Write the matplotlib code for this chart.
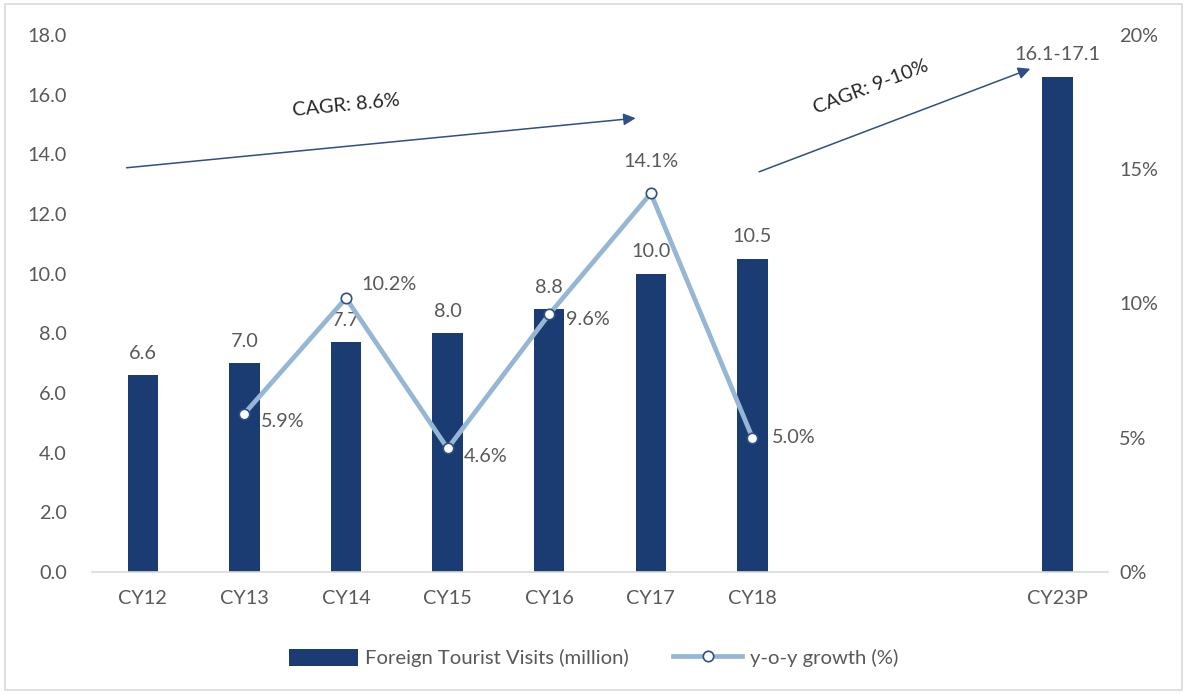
import matplotlib
matplotlib.use("Agg")
import matplotlib.pyplot as plt
from matplotlib.patches import Rectangle

plt.rcParams['font.family'] = ['Lato', 'DejaVu Sans']

categories = ['CY12', 'CY13', 'CY14', 'CY15', 'CY16', 'CY17', 'CY18', '', '', 'CY23P']
visits = [6.6, 7.0, 7.7, 8.0, 8.8, 10.0, 10.5, None, None, 16.6]
visit_labels = ['6.6', '7.0', '7.7', '8.0', '8.8', '10.0', '10.5', '', '', '16.1-17.1']
growth_cats = ['CY13', 'CY14', 'CY15', 'CY16', 'CY17', 'CY18']
growth = [5.9, 10.2, 4.6, 9.6, 14.1, 5.0]
left_ticks = [0, 2, 4, 6, 8, 10, 12, 14, 16, 18]
right_ticks = [0, 5, 10, 15, 20]

BAR = '#1B3C73'
LINE = '#95B7D3'
TXT = '#595959'
FS = 14.3

fig = plt.figure(figsize=(11.87, 6.94), dpi=100)
fig.patches.append(Rectangle((0.004, 0.006), 0.992, 0.988, transform=fig.transFigure,
                             fill=False, edgecolor='#D9D9D9', linewidth=1.2))
ax = fig.add_axes([0.0775, 0.1758, 0.856, 0.7738])
ax2 = ax.twinx()

xs = list(range(len(categories)))
bx = [x for x, v in zip(xs, visits) if v is not None]
bv = [v for v in visits if v is not None]
bl = [l for l, v in zip(visit_labels, visits) if v is not None]
bars = ax.bar(bx, bv, width=0.30, color=BAR, zorder=2)
for x, v, l in zip(bx, bv, bl):
    ax.text(x, v + 0.45, l, ha='center', va='bottom', fontsize=FS, color=TXT, zorder=5)

ax.set_xlim(-0.5, len(categories) - 0.5)
ax.set_ylim(0, 18)
ax.set_yticks(left_ticks)
ax.set_yticklabels([f'{t:.1f}' for t in left_ticks])
ax.set_xticks(xs)
ax.set_xticklabels(categories)
ax.tick_params(axis='both', length=0, labelsize=FS, labelcolor=TXT)
ax.tick_params(axis='x', pad=13)
ax.tick_params(axis='y', pad=18)
for s in ['top', 'right', 'left']:
    ax.spines[s].set_visible(False)
ax.spines['bottom'].set_color('#D9D9D9')
ax.spines['bottom'].set_linewidth(1.2)

gx = [categories.index(c) for c in growth_cats]
ax2.plot(gx, growth, color=LINE, linewidth=3.4, marker='o', markersize=7.5,
         markerfacecolor='white', markeredgecolor='#2F4F86', markeredgewidth=1.2, zorder=4)
ax2.set_ylim(0, 20)
ax2.set_yticks(right_ticks)
ax2.set_yticklabels([f'{t}%' for t in right_ticks])
ax2.tick_params(axis='y', length=0, labelsize=FS, labelcolor=TXT, pad=8)
for s in ['top', 'right', 'left', 'bottom']:
    ax2.spines[s].set_visible(False)

offsets = {'CY13': (12, -6, 'left', 'center'), 'CY14': (11, 4, 'left', 'bottom'),
           'CY15': (12, -6, 'left', 'center'), 'CY16': (12, -4, 'left', 'center'),
           'CY17': (0, 17, 'center', 'bottom'), 'CY18': (14, 0, 'left', 'center')}
for c, x, g in zip(growth_cats, gx, growth):
    dx, dy, ha, va = offsets[c]
    ax2.annotate(f'{g:.1f}%', (x, g), xytext=(dx, dy), textcoords='offset points',
                 ha=ha, va=va, fontsize=FS, color=TXT, zorder=6)

# CAGR arrows
ax.annotate('', xy=(4.877, 15.22), xytext=(-0.187, 13.54),
            arrowprops=dict(arrowstyle='-|>', color='#2F4F86', lw=1.1, mutation_scale=18))
ax.text(2.0, 15.65, 'CAGR: 8.6%', rotation=5.5, ha='center', va='center', fontsize=FS, color='#262626')
ax.annotate('', xy=(8.76, 16.9), xytext=(6.04, 13.38),
            arrowprops=dict(arrowstyle='-|>', color='#2F4F86', lw=1.1, mutation_scale=18))
ax.text(7.17, 16.25, 'CAGR: 9-10%', rotation=21, ha='center', va='center', fontsize=FS, color='#262626')

handles = [bars, ax2.lines[0]]
labels = ['Foreign Tourist Visits (million)', 'y-o-y growth (%)']
fig.legend(handles, labels, loc='center', bbox_to_anchor=(0.5, 0.052), ncol=2, frameon=False,
           fontsize=FS + 0.3, labelcolor=TXT, handlelength=3.4, handleheight=0.9,
           columnspacing=2.2, handletextpad=0.35)

fig.savefig('out.png', dpi=100)
